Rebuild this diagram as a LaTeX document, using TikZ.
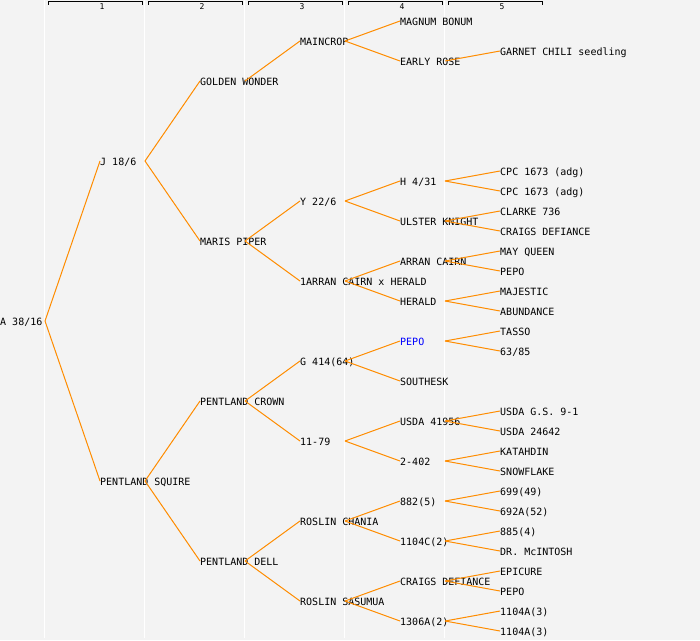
\documentclass[tikz,border=0pt]{standalone}
\usepackage{fontspec}
\setmonofont{DejaVu Sans Mono}
\definecolor{panel}{RGB}{243,243,243}
\definecolor{lineage}{RGB}{255,140,0}
\tikzset{
	cultivar/.style={anchor=west, inner sep=0pt, text height=9.4pt, text depth=0pt, font=\ttfamily\fontsize{10}{12}\selectfont},
	parentage/.style={draw=lineage, line width=1pt},
	colhead/.style={inner sep=0pt, font=\ttfamily\fontsize{8}{9}\selectfont}
}
\begin{document}
\begin{tikzpicture}[x=1pt, y=-1pt]
	\fill[panel] (0,0) rectangle (700,640);
	\useasboundingbox (0,0) rectangle (700,640);
	% column separators
	\draw[white, line width=1pt] (44.5,0) -- (44.5,637.5);
	\draw[white, line width=1pt] (144.5,0) -- (144.5,637.5);
	\draw[white, line width=1pt] (244.5,0) -- (244.5,637.5);
	\draw[white, line width=1pt] (344.5,0) -- (344.5,637.5);
	\draw[white, line width=1pt] (444.5,0) -- (444.5,637.5);
	% generation brackets
	\draw[line width=1pt] (48.5,4.5) -- (48.5,1.5) -- (142.5,1.5) -- (142.5,4.5);
	\draw[line width=1pt] (148.5,4.5) -- (148.5,1.5) -- (242.5,1.5) -- (242.5,4.5);
	\draw[line width=1pt] (248.5,4.5) -- (248.5,1.5) -- (342.5,1.5) -- (342.5,4.5);
	\draw[line width=1pt] (348.5,4.5) -- (348.5,1.5) -- (442.5,1.5) -- (442.5,4.5);
	\draw[line width=1pt] (448.5,4.5) -- (448.5,1.5) -- (542.5,1.5) -- (542.5,4.5);
	\node[colhead] (h1) at (102,6.2) {1};
	\node[colhead] (h2) at (202,6.2) {2};
	\node[colhead] (h3) at (302,6.2) {3};
	\node[colhead] (h4) at (402,6.2) {4};
	\node[colhead] (h5) at (502,6.2) {5};

	% generation 0 to 2
	\node[cultivar] (a) at (0,321) {A 38/16};
	\node[cultivar] (j) at (100,161) {J 18/6};
	\node[cultivar] (psq) at (100,481) {PENTLAND SQUIRE};
	\node[cultivar] (gw) at (200,81) {GOLDEN WONDER};
	\node[cultivar] (mp) at (200,241) {MARIS PIPER};
	\node[cultivar] (pcr) at (200,401) {PENTLAND CROWN};
	\node[cultivar] (pd) at (200,561) {PENTLAND DELL};
	% generation 3
	\node[cultivar] (mc) at (300,41) {MAINCROP};
	\node[cultivar] (y226) at (300,201) {Y 22/6};
	\node[cultivar] (ach) at (300,281) {1ARRAN CAIRN x HERALD};
	\node[cultivar] (g414) at (300,361) {G 414(64)};
	\node[cultivar] (e1179) at (300,441) {11-79};
	\node[cultivar] (rch) at (300,521) {ROSLIN CHANIA};
	\node[cultivar] (rsa) at (300,601) {ROSLIN SASUMUA};
	% generation 4
	\node[cultivar] (mb) at (400,21) {MAGNUM BONUM};
	\node[cultivar] (er) at (400,61) {EARLY ROSE};
	\node[cultivar] (h431) at (400,181) {H 4/31};
	\node[cultivar] (uk) at (400,221) {ULSTER KNIGHT};
	\node[cultivar] (ac) at (400,261) {ARRAN CAIRN};
	\node[cultivar] (he) at (400,301) {HERALD};
	\node[cultivar, text=blue] (pep) at (400,341) {PEPO};
	\node[cultivar] (so) at (400,381) {SOUTHESK};
	\node[cultivar] (us) at (400,421) {USDA 41956};
	\node[cultivar] (t402) at (400,461) {2-402};
	\node[cultivar] (c882) at (400,501) {882(5)};
	\node[cultivar] (c1104) at (400,541) {1104C(2)};
	\node[cultivar] (cd) at (400,581) {CRAIGS DEFIANCE};
	\node[cultivar] (c1306) at (400,621) {1306A(2)};
	% generation 5
	\node[cultivar] (gcs) at (500,51) {GARNET CHILI seedling};
	\node[cultivar] (cpca) at (500,171) {CPC 1673 (adg)};
	\node[cultivar] (cpcb) at (500,191) {CPC 1673 (adg)};
	\node[cultivar] (cl) at (500,211) {CLARKE 736};
	\node[cultivar] (cdb) at (500,231) {CRAIGS DEFIANCE};
	\node[cultivar] (mq) at (500,251) {MAY QUEEN};
	\node[cultivar] (pepa) at (500,271) {PEPO};
	\node[cultivar] (mj) at (500,291) {MAJESTIC};
	\node[cultivar] (abu) at (500,311) {ABUNDANCE};
	\node[cultivar] (ta) at (500,331) {TASSO};
	\node[cultivar] (s6385) at (500,351) {63/85};
	\node[cultivar] (gs) at (500,411) {USDA G.S. 9-1};
	\node[cultivar] (u24642) at (500,431) {USDA 24642};
	\node[cultivar] (ka) at (500,451) {KATAHDIN};
	\node[cultivar] (sn) at (500,471) {SNOWFLAKE};
	\node[cultivar] (d699) at (500,491) {699(49)};
	\node[cultivar] (d692) at (500,511) {692A(52)};
	\node[cultivar] (d885) at (500,531) {885(4)};
	\node[cultivar] (mci) at (500,551) {DR. McINTOSH};
	\node[cultivar] (ep) at (500,571) {EPICURE};
	\node[cultivar] (pepb) at (500,591) {PEPO};
	\node[cultivar] (aa) at (500,611) {1104A(3)};
	\node[cultivar] (ab) at (500,631) {1104A(3)};

	% parent links
	\draw[parentage] (a.west) ++(45,0) -- (j.west);
	\draw[parentage] (a.west) ++(45,0) -- (psq.west);
	\draw[parentage] (j.west) ++(45,0) -- (gw.west);
	\draw[parentage] (j.west) ++(45,0) -- (mp.west);
	\draw[parentage] (psq.west) ++(45,0) -- (pcr.west);
	\draw[parentage] (psq.west) ++(45,0) -- (pd.west);
	\draw[parentage] (gw.west) ++(45,0) -- (mc.west);
	\draw[parentage] (mp.west) ++(45,0) -- (y226.west);
	\draw[parentage] (mp.west) ++(45,0) -- (ach.west);
	\draw[parentage] (pcr.west) ++(45,0) -- (g414.west);
	\draw[parentage] (pcr.west) ++(45,0) -- (e1179.west);
	\draw[parentage] (pd.west) ++(45,0) -- (rch.west);
	\draw[parentage] (pd.west) ++(45,0) -- (rsa.west);
	\draw[parentage] (mc.west) ++(45,0) -- (mb.west);
	\draw[parentage] (mc.west) ++(45,0) -- (er.west);
	\draw[parentage] (y226.west) ++(45,0) -- (h431.west);
	\draw[parentage] (y226.west) ++(45,0) -- (uk.west);
	\draw[parentage] (ach.west) ++(45,0) -- (ac.west);
	\draw[parentage] (ach.west) ++(45,0) -- (he.west);
	\draw[parentage] (g414.west) ++(45,0) -- (pep.west);
	\draw[parentage] (g414.west) ++(45,0) -- (so.west);
	\draw[parentage] (e1179.west) ++(45,0) -- (us.west);
	\draw[parentage] (e1179.west) ++(45,0) -- (t402.west);
	\draw[parentage] (rch.west) ++(45,0) -- (c882.west);
	\draw[parentage] (rch.west) ++(45,0) -- (c1104.west);
	\draw[parentage] (rsa.west) ++(45,0) -- (cd.west);
	\draw[parentage] (rsa.west) ++(45,0) -- (c1306.west);
	\draw[parentage] (er.west) ++(45,0) -- (gcs.west);
	\draw[parentage] (h431.west) ++(45,0) -- (cpca.west);
	\draw[parentage] (h431.west) ++(45,0) -- (cpcb.west);
	\draw[parentage] (uk.west) ++(45,0) -- (cl.west);
	\draw[parentage] (uk.west) ++(45,0) -- (cdb.west);
	\draw[parentage] (ac.west) ++(45,0) -- (mq.west);
	\draw[parentage] (ac.west) ++(45,0) -- (pepa.west);
	\draw[parentage] (he.west) ++(45,0) -- (mj.west);
	\draw[parentage] (he.west) ++(45,0) -- (abu.west);
	\draw[parentage] (pep.west) ++(45,0) -- (ta.west);
	\draw[parentage] (pep.west) ++(45,0) -- (s6385.west);
	\draw[parentage] (us.west) ++(45,0) -- (gs.west);
	\draw[parentage] (us.west) ++(45,0) -- (u24642.west);
	\draw[parentage] (t402.west) ++(45,0) -- (ka.west);
	\draw[parentage] (t402.west) ++(45,0) -- (sn.west);
	\draw[parentage] (c882.west) ++(45,0) -- (d699.west);
	\draw[parentage] (c882.west) ++(45,0) -- (d692.west);
	\draw[parentage] (c1104.west) ++(45,0) -- (d885.west);
	\draw[parentage] (c1104.west) ++(45,0) -- (mci.west);
	\draw[parentage] (cd.west) ++(45,0) -- (ep.west);
	\draw[parentage] (cd.west) ++(45,0) -- (pepb.west);
	\draw[parentage] (c1306.west) ++(45,0) -- (aa.west);
	\draw[parentage] (c1306.west) ++(45,0) -- (ab.west);
\end{tikzpicture}
\end{document}
